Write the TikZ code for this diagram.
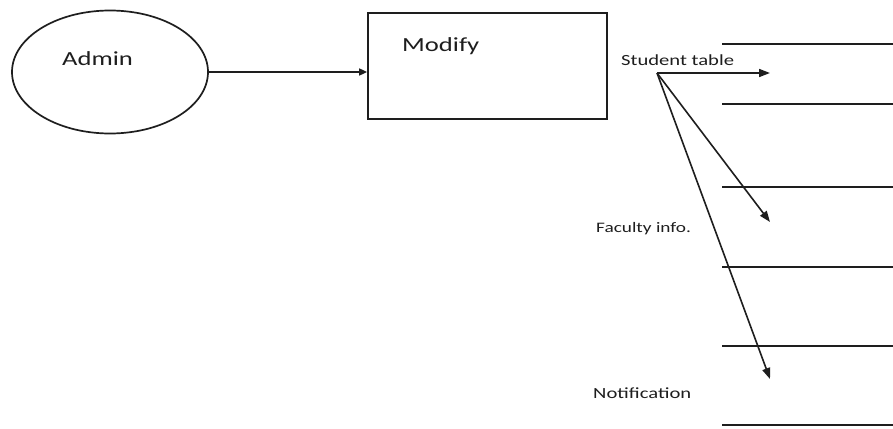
\documentclass[tikz,border=0pt]{standalone}
\usepackage{fontspec}
\setmainfont{Carlito}[FakeStretch=1.33]
\usetikzlibrary{shapes.geometric,arrows.meta}
\definecolor{ink}{HTML}{1E1E1E}
\tikzset{
  outline/.style={draw=ink, line width=1.7pt},
  flow/.style={draw=ink, line width=1.6pt, -{Triangle[length=11pt,width=8pt]}},
  store/.style={draw=ink, line width=1.8pt},
  caption/.style={inner sep=0pt, anchor=base west, text=ink},
}
\begin{document}
\begin{tikzpicture}[x=1pt,y=-1pt]
  \useasboundingbox[fill=white] (0,0) rectangle (893,428);

  % external entity and process
  \node[outline, ellipse, minimum width=196pt, minimum height=123pt, inner sep=0pt] (admin) at (110,72) {};
  \node[caption, font=\fontsize{20pt}{24pt}\selectfont] (adminlabel) at (62,65) {Admin};
  \node[outline, rectangle, minimum width=239pt, minimum height=106pt, inner sep=0pt] (modify) at (487.5,66) {};
  \node[caption, font=\fontsize{20pt}{24pt}\selectfont] (modifylabel) at (402,52) {Modify};

  \draw[flow, -{Triangle[length=8pt,width=7pt]}] (admin.east) -- (admin.east -| modify.west);

  % data flows out of the process
  \coordinate (src) at (657,73);
  \coordinate (t1) at (770,73);
  \coordinate (t2) at (770,222);
  \coordinate (t3) at (770,379);
  \draw[flow] (src) -- (t1);
  \draw[flow] (src) -- (t2);
  \draw[flow] (src) -- (t3);

  \node[caption, font=\fontsize{15.5pt}{18pt}\selectfont] (student) at (621,65) {Student table};
  \node[caption, font=\fontsize{14.5pt}{17pt}\selectfont] (faculty) at (596,232) {Faculty info.};
  \node[caption, font=\fontsize{15.5pt}{18pt}\selectfont] (notice) at (593,398) {Notification};

  % data stores (open-ended parallel lines)
  \foreach \y [count=\i] in {44,104,187,267,346,425} {
    \coordinate (sl\i) at (722,\y);
    \coordinate (sr\i) at (893,\y);
    \draw[store] (sl\i) -- (sr\i);
  }
\end{tikzpicture}
\end{document}
